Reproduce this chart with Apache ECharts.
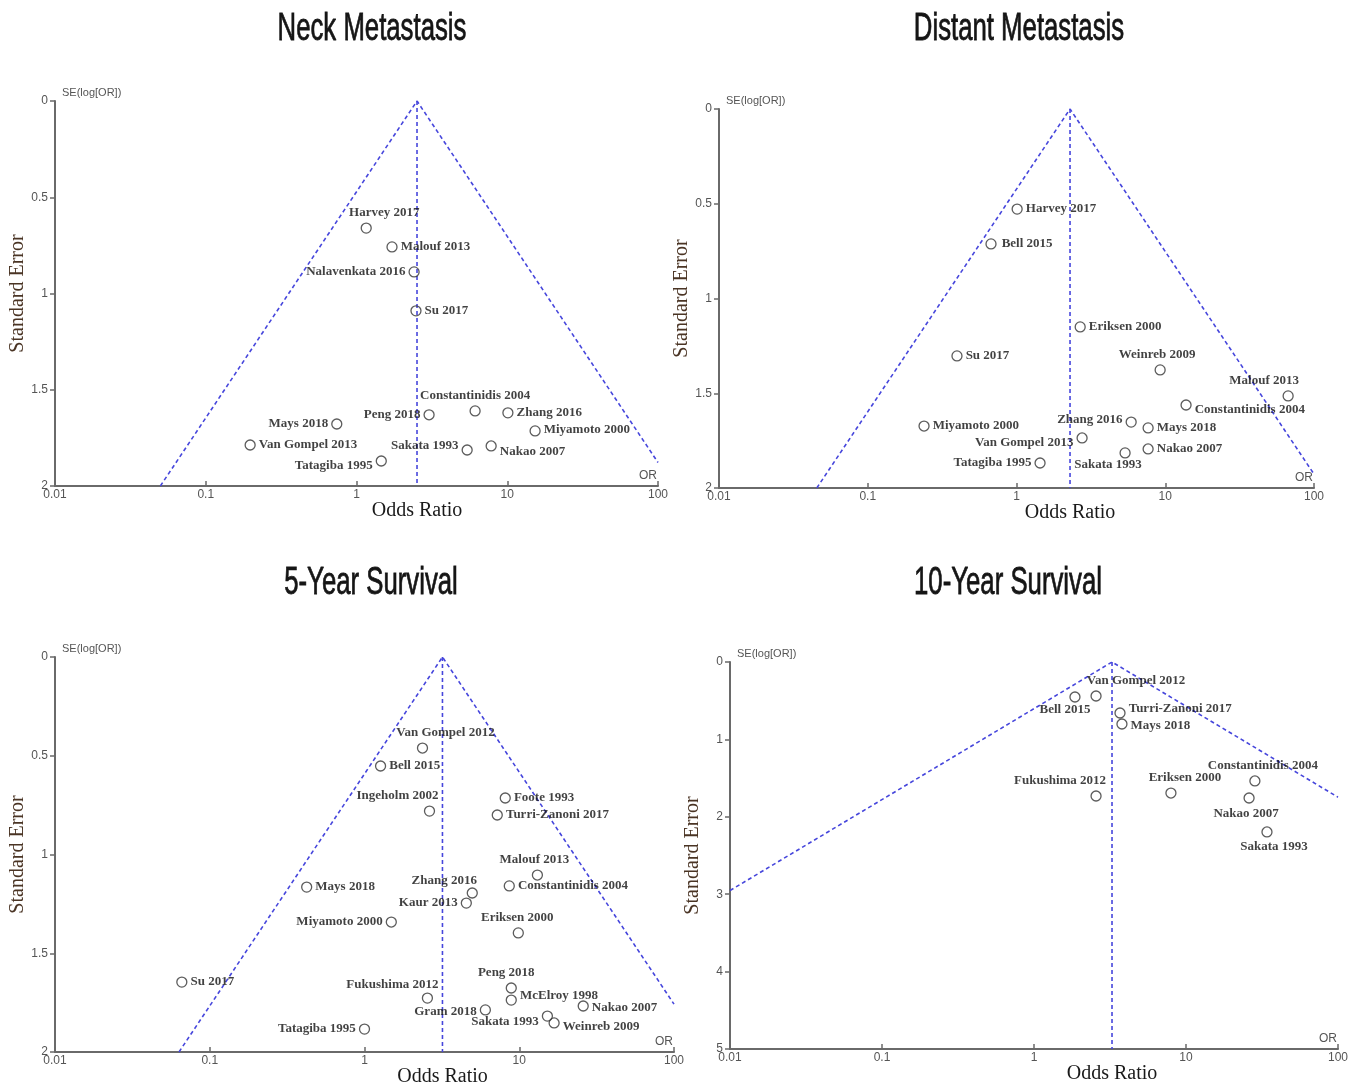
<!DOCTYPE html>
<html>
<head>
<meta charset="utf-8">
<script src="https://cdn.jsdelivr.net/npm/echarts@6/dist/echarts.min.js"></script>
<style>
  html, body { margin: 0; padding: 0; background: #ffffff; }
  #chart { width: 1363px; height: 1091px; }
</style>
</head>
<body>
<div id="chart"></div>
<script>
// ---- Neck metastasis ----
const neckStudies = ['Harvey 2017', 'Malouf 2013', 'Nalavenkata 2016', 'Su 2017', 'Constantinidis 2004',
  'Peng 2018', 'Zhang 2016', 'Miyamoto 2000', 'Mays 2018', 'Van Gompel 2013', 'Sakata 1993',
  'Nakao 2007', 'Tatagiba 1995'];
const neckOR = [1.16, 1.72, 2.41, 2.48, 6.12, 3.03, 10.1, 15.3, 0.74, 0.197, 5.42, 7.82, 1.46];
const neckSE = [0.66, 0.758, 0.888, 1.09, 1.61, 1.63, 1.62, 1.714, 1.678, 1.787, 1.813, 1.792, 1.87];
const neckPooledOR = 2.52;

// ---- Distant metastasis ----
const distantStudies = ['Harvey 2017', 'Bell 2015', 'Eriksen 2000', 'Su 2017', 'Weinreb 2009', 'Malouf 2013',
  'Constantinidis 2004', 'Zhang 2016', 'Mays 2018', 'Miyamoto 2000', 'Van Gompel 2013', 'Nakao 2007',
  'Sakata 1993', 'Tatagiba 1995'];
const distantOR = [1.01, 0.674, 2.68, 0.398, 9.24, 67, 13.8, 5.9, 7.67, 0.239, 2.76, 7.67, 5.37, 1.44];
const distantSE = [0.528, 0.712, 1.15, 1.303, 1.377, 1.514, 1.562, 1.652, 1.683, 1.673, 1.736, 1.794, 1.815, 1.868];
const distantPooledOR = 2.29;

// ---- 5-year survival ----
const surv5Studies = ['Van Gompel 2012', 'Bell 2015', 'Ingeholm 2002', 'Foote 1993', 'Turri-Zanoni 2017',
  'Malouf 2013', 'Constantinidis 2004', 'Mays 2018', 'Zhang 2016', 'Kaur 2013', 'Miyamoto 2000',
  'Eriksen 2000', 'Su 2017', 'Peng 2018', 'McElroy 1998', 'Fukushima 2012', 'Gram 2018', 'Sakata 1993',
  'Weinreb 2009', 'Nakao 2007', 'Tatagiba 1995'];
const surv5OR = [2.37, 1.27, 2.63, 8.12, 7.21, 13.1, 8.62, 0.423, 4.97, 4.55, 1.49, 9.86, 0.066, 8.88, 8.88,
  2.55, 6.04, 15.2, 16.8, 25.9, 1.0];
const surv5SE = [0.461, 0.552, 0.78, 0.714, 0.8, 1.104, 1.159, 1.165, 1.195, 1.246, 1.342, 1.397, 1.646,
  1.676, 1.737, 1.727, 1.787, 1.818, 1.853, 1.767, 1.884];
const surv5PooledOR = 3.19;

// ---- 10-year survival ----
const surv10Studies = ['Bell 2015', 'Van Gompel 2012', 'Turri-Zanoni 2017', 'Mays 2018', 'Fukushima 2012',
  'Eriksen 2000', 'Constantinidis 2004', 'Nakao 2007', 'Sakata 1993'];
const surv10OR = [1.86, 2.56, 3.68, 3.79, 2.56, 7.96, 28.4, 26.0, 34.1];
const surv10SE = [0.452, 0.439, 0.659, 0.801, 1.731, 1.693, 1.537, 1.757, 2.196];
const surv10PooledOR = 3.26;

// Axis ranges and tick labels
const orTicks = [0.01, 0.1, 1, 10, 100];
const orMin = 0.01, orMax = 100;

// Label placement for each study name: [position, dx, dy]
const neckLabels = {
  'Harvey 2017': ['top', 18, 0], 'Malouf 2013': ['right', 0, 0], 'Nalavenkata 2016': ['left', 0, 0],
  'Su 2017': ['right', 0, 0], 'Constantinidis 2004': ['top', 0, 0], 'Peng 2018': ['left', 0, 0],
  'Zhang 2016': ['right', 0, 0], 'Miyamoto 2000': ['right', 0, -1], 'Mays 2018': ['left', 0, 0],
  'Van Gompel 2013': ['right', 0, 0], 'Sakata 1993': ['left', 0, -4], 'Nakao 2007': ['right', 0, 6],
  'Tatagiba 1995': ['left', 0, 5]
};
const distantLabels = {
  'Harvey 2017': ['right', 0, 0], 'Bell 2015': ['right', 2, 0], 'Eriksen 2000': ['right', 0, 0],
  'Su 2017': ['right', 0, 0], 'Weinreb 2009': ['top', -3, 0], 'Malouf 2013': ['top', -24, 0],
  'Constantinidis 2004': ['right', 0, 5], 'Zhang 2016': ['left', 0, -2], 'Mays 2018': ['right', 0, 0],
  'Miyamoto 2000': ['right', 0, 0], 'Van Gompel 2013': ['left', 0, 5], 'Nakao 2007': ['right', 0, 0],
  'Sakata 1993': ['bottom', -17, -3], 'Tatagiba 1995': ['left', 0, 0]
};
const surv5Labels = {
  'Van Gompel 2012': ['top', 23, 0], 'Bell 2015': ['right', 0, 0], 'Ingeholm 2002': ['top', -32, 0],
  'Foote 1993': ['right', 0, 0], 'Turri-Zanoni 2017': ['right', 0, 0], 'Malouf 2013': ['top', -3, 0],
  'Constantinidis 2004': ['right', 0, 0], 'Mays 2018': ['right', 0, 0], 'Zhang 2016': ['top', -28, 3],
  'Kaur 2013': ['left', 0, 0], 'Miyamoto 2000': ['left', 0, 0], 'Eriksen 2000': ['top', -1, 0],
  'Su 2017': ['right', 0, 0], 'Peng 2018': ['top', -5, 0], 'McElroy 1998': ['right', 0, -4],
  'Fukushima 2012': ['top', -35, 2], 'Gram 2018': ['left', 0, 2], 'Sakata 1993': ['left', 0, 6],
  'Weinreb 2009': ['right', 0, 4], 'Nakao 2007': ['right', 0, 2], 'Tatagiba 1995': ['left', 0, 0]
};
const surv10Labels = {
  'Van Gompel 2012': ['top', 40, 0], 'Bell 2015': ['bottom', -10, -2], 'Turri-Zanoni 2017': ['right', 0, -4],
  'Mays 2018': ['right', 0, 2], 'Fukushima 2012': ['top', -36, 0], 'Eriksen 2000': ['top', 14, 0],
  'Constantinidis 2004': ['top', 8, 0], 'Nakao 2007': ['bottom', -3, 0], 'Sakata 1993': ['bottom', 7, 0]
};

const panels = [
  { title: 'Neck Metastasis', titleX: 372, titleY: 29, studies: neckStudies, or: neckOR, se: neckSE,
    pooled: neckPooledOR, seMax: 2, seStep: 0.5, labels: neckLabels,
    grid: { left: 55, top: 101, width: 603, height: 385 } },
  { title: 'Distant Metastasis', titleX: 1019, titleY: 29, studies: distantStudies, or: distantOR, se: distantSE,
    pooled: distantPooledOR, seMax: 2, seStep: 0.5, labels: distantLabels,
    grid: { left: 719, top: 109, width: 595, height: 379 } },
  { title: '5-Year Survival', titleX: 371, titleY: 583, studies: surv5Studies, or: surv5OR, se: surv5SE,
    pooled: surv5PooledOR, seMax: 2, seStep: 0.5, labels: surv5Labels,
    grid: { left: 55, top: 657, width: 619, height: 395 } },
  { title: '10-Year Survival', titleX: 1008, titleY: 583, studies: surv10Studies, or: surv10OR, se: surv10SE,
    pooled: surv10PooledOR, seMax: 5, seStep: 1, labels: surv10Labels,
    grid: { left: 730, top: 662, width: 608, height: 387 } }
];

const AXIS_COLOR = '#6a6a6a';
const FUNNEL_COLOR = '#4646dc';
const TICK_FONT = 'Arial, "Liberation Sans", sans-serif';
const SERIF = '"Times New Roman", "Liberation Serif", serif';
const TITLE_FONT = '"Liberation Sans", Arial, sans-serif';

// Pseudo 95% confidence limits around the pooled estimate, clipped to the OR axis range
function funnelLines(pooled, seMax) {
  const z = 1.96;
  const lp = Math.log(pooled);
  const seL = Math.min(seMax, (lp - Math.log(orMin)) / z);
  const seR = Math.min(seMax, (Math.log(orMax) - lp) / z);
  return {
    sides: [[Math.exp(lp - z * seL), seL], [pooled, 0], [Math.exp(lp + z * seR), seR]],
    centre: [[pooled, 0], [pooled, seMax]]
  };
}

const option = {
  backgroundColor: '#ffffff',
  animation: false,
  grid: [],
  xAxis: [],
  yAxis: [],
  series: []
};

panels.forEach((p, i) => {
  option.grid.push(Object.assign({ containLabel: false }, p.grid));

  option.xAxis.push({
    gridIndex: i,
    type: 'log',
    logBase: 10,
    min: orMin,
    max: orMax,
    position: 'bottom',
    splitLine: { show: false },
    axisLine: { onZero: false, lineStyle: { color: AXIS_COLOR, width: 2 } },
    axisTick: { inside: true, length: 5, lineStyle: { color: AXIS_COLOR, width: 1.5 } },
    axisLabel: {
      color: '#555', fontFamily: TICK_FONT, fontSize: 12, margin: 3,
      formatter: v => {
        const t = orTicks.find(t => Math.abs(Math.log10(t) - Math.log10(v)) < 1e-6);
        return t === undefined ? '' : String(t);
      }
    }
  });

  option.yAxis.push({
    gridIndex: i,
    type: 'value',
    inverse: true,
    min: 0,
    max: p.seMax,
    interval: p.seStep,
    position: 'left',
    splitLine: { show: false },
    axisLine: { show: true, onZero: false, lineStyle: { color: AXIS_COLOR, width: 2 } },
    axisTick: { show: true, length: 5, lineStyle: { color: AXIS_COLOR, width: 1.5 } },
    axisLabel: { color: '#555', fontFamily: TICK_FONT, fontSize: 12, margin: 7 },
    name: 'Standard Error',
    nameLocation: 'middle',
    nameRotate: 90,
    nameGap: 27,
    nameTextStyle: { fontFamily: SERIF, fontSize: 20, color: '#4a3424' }
  });

  const f = funnelLines(p.pooled, p.seMax);
  const dashed = { color: FUNNEL_COLOR, width: 1.6, type: [4, 3] };
  option.series.push({
    type: 'line', xAxisIndex: i, yAxisIndex: i, data: f.sides, symbol: 'none',
    silent: true, lineStyle: dashed, z: 1
  });
  option.series.push({
    type: 'line', xAxisIndex: i, yAxisIndex: i, data: f.centre, symbol: 'none',
    silent: true, lineStyle: dashed, z: 1
  });

  option.series.push({
    type: 'scatter',
    xAxisIndex: i, yAxisIndex: i,
    symbol: 'circle',
    symbolSize: 10,
    itemStyle: { color: 'rgba(255,255,255,0)', borderColor: '#333', borderWidth: 1.3 },
    z: 3,
    data: p.studies.map((name, k) => {
      const pl = p.labels[name] || ['right', 0, 0];
      return {
        name: name,
        value: [p.or[k], p.se[k]],
        label: { position: pl[0], offset: [pl[1], pl[2]] }
      };
    }),
    label: {
      show: true,
      formatter: '{b}',
      distance: 3,
      fontFamily: SERIF,
      fontWeight: 'bold',
      fontSize: 13,
      color: '#111'
    }
  });
});

const chart = echarts.init(document.getElementById('chart'), null, { renderer: 'canvas' });
chart.setOption(option);

// Titles and small axis annotations placed from the axes' own pixel mapping
const graphics = [];
panels.forEach((p, i) => {
  graphics.push({
    type: 'text', x: p.titleX, y: p.titleY, scaleX: 0.66,
    style: {
      text: p.title, font: '39px ' + TITLE_FONT, fill: '#151515',
      stroke: '#151515', lineWidth: 0.8,
      textAlign: 'center', textVerticalAlign: 'middle'
    }
  });
  const topLeft = chart.convertToPixel({ gridIndex: i }, [orMin, 0]);
  const bottomRight = chart.convertToPixel({ gridIndex: i }, [orMax, p.seMax]);
  const pooledBottom = chart.convertToPixel({ gridIndex: i }, [p.pooled, p.seMax]);
  graphics.push({
    type: 'text', x: topLeft[0] + 7, y: topLeft[1] - 8,
    style: { text: 'SE(log[OR])', font: '11px ' + TICK_FONT, fill: '#555', textAlign: 'left', textVerticalAlign: 'middle' }
  });
  graphics.push({
    type: 'text', x: bottomRight[0] - 10, y: bottomRight[1] - 10,
    style: { text: 'OR', font: '12px ' + TICK_FONT, fill: '#555', textAlign: 'center', textVerticalAlign: 'middle' }
  });
  graphics.push({
    type: 'text', x: pooledBottom[0], y: pooledBottom[1] + 25,
    style: { text: 'Odds Ratio', font: '20px ' + SERIF, fill: '#1a1a1a', textAlign: 'center', textVerticalAlign: 'middle' }
  });
});
chart.setOption({ graphic: graphics });
</script>
</body>
</html>
